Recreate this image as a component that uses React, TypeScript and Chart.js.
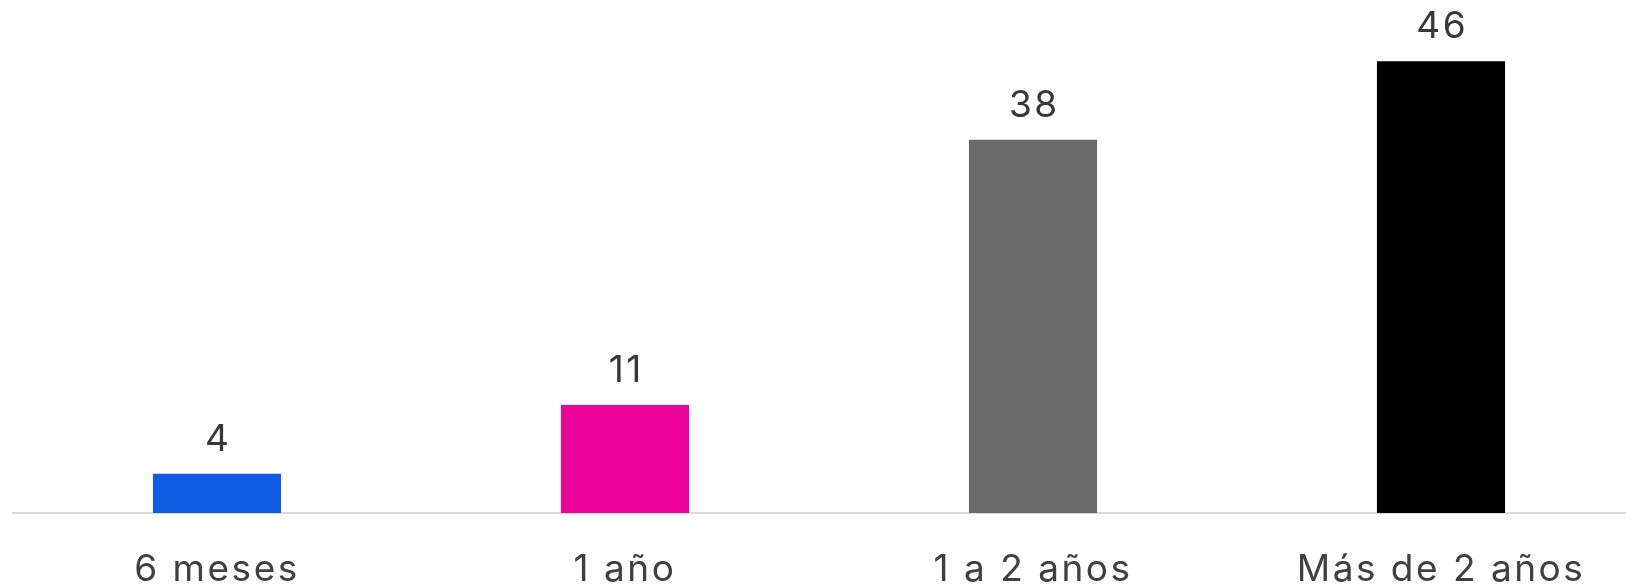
import React, { useEffect, useRef } from "react";
import { Chart, registerables } from "chart.js";

Chart.register(...registerables);

const categories = ["6 meses", "1 año", "1 a 2 años", "Más de 2 años"];
const values = [4, 11, 38, 46];
const barColors = ["#105CE4", "#EC0399", "#6B6B6B", "#000000"];

const FONT = "Inter";

const spacing = {
  id: "spacing",
  beforeDraw(chart: any) {
    (chart.ctx as any).letterSpacing = "2.5px";
  },
};

const valueLabels = {
  id: "valueLabels",
  afterDatasetsDraw(chart: any) {
    const ctx = chart.ctx;
    const meta = chart.getDatasetMeta(0);
    ctx.save();
    (ctx as any).letterSpacing = "2.5px";
    ctx.font = `37px ${FONT}`;
    ctx.fillStyle = "#383838";
    ctx.textAlign = "center";
    ctx.textBaseline = "alphabetic";
    meta.data.forEach((bar: any, i: number) => {
      ctx.fillText(String(values[i]), bar.x + 1.25, bar.y - 23);
    });
    ctx.restore();
  },
};

export default function App() {
  const ref = useRef<HTMLCanvasElement | null>(null);
  useEffect(() => {
    document.body.style.margin = "0";
    const chart = new Chart(ref.current as HTMLCanvasElement, {
      type: "bar",
      data: {
        labels: categories,
        datasets: [
          {
            data: values,
            backgroundColor: barColors,
            borderWidth: 0,
            categoryPercentage: 1,
            barPercentage: 0.314,
          },
        ],
      },
      options: {
        responsive: false,
        animation: false,
        events: [],
        layout: { padding: { left: 13, right: 5, top: 22, bottom: 0 } },
        plugins: { legend: { display: false }, tooltip: { enabled: false } },
        scales: {
          x: {
            grid: { display: false, drawTicks: false },
            border: { display: true, color: "#D9D9D9", width: 2 },
            ticks: {
              color: "#404040",
              font: { family: FONT, size: 37 },
              padding: 35,
              maxRotation: 0,
              autoSkip: false,
            },
            afterFit: (scale: any) => {
              scale.height = 73;
            },
          },
          y: {
            display: false,
            min: 0,
            max: 50,
          },
        },
      },
      plugins: [spacing, valueLabels],
    });
    return () => chart.destroy();
  }, []);
  return (
    <div style={{ width: 1626, height: 586, overflow: "hidden", position: "relative" }}>
      <canvas ref={ref} width={1650} height={586} style={{ display: "block", width: 1650, height: 586 }} />
    </div>
  );
}
